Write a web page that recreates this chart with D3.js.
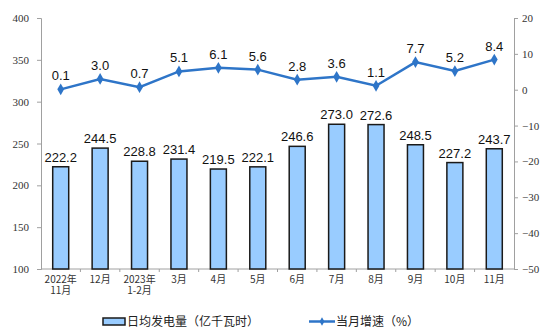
<!DOCTYPE html>
<html>
<head>
<meta charset="utf-8">
<script src="https://cdn.jsdelivr.net/npm/d3@7"></script>
<style>
body{margin:0;background:#fff;}
</style>
</head>
<body>
<div id="chart"></div>
<script>
var months = ['2022年\n11月','12月','2023年\n1-2月','3月','4月','5月','6月','7月','8月','9月','10月','11月'];
var daily = [222.2,244.5,228.8,231.4,219.5,222.1,246.6,273.0,272.6,248.5,227.2,243.7];
var growth = [0.1,3.0,0.7,5.1,6.1,5.6,2.8,3.6,1.1,7.7,5.2,8.4];
var leftTicks = [100,150,200,250,300,350,400];
var rightTicks = [-50,-40,-30,-20,-10,0,10,20];

var W=554,H=334;
var pLeft=41,pRight=514,pTop=18,pBottom=269;

var svg = d3.select('#chart').append('svg')
  .attr('width',W).attr('height',H);

var x = d3.scaleBand().domain(d3.range(months.length)).range([pLeft,pRight]);
var y = d3.scaleLinear().domain([100,400]).range([pBottom,pTop]);
var y2 = d3.scaleLinear().domain([-50,20]).range([pBottom,pTop]);

var serif = '"Liberation Serif","DejaVu Serif",serif';
var sans = '"Liberation Sans",Arial,sans-serif';
var cjk = '"Noto Sans CJK SC",sans-serif';

// left axis
var ax = svg.append('g').attr('transform','translate('+pLeft+',0)')
  .call(d3.axisLeft(y).tickValues(leftTicks).tickSize(4).tickPadding(8));
ax.select('.domain').attr('stroke','#a0a0a0');
ax.selectAll('line').attr('stroke','#a0a0a0');
ax.selectAll('text').attr('font-family',serif).attr('font-size',11).attr('fill','#333');

// right axis
var ax2 = svg.append('g').attr('transform','translate('+pRight+',0)')
  .call(d3.axisRight(y2).tickValues(rightTicks).tickSize(4).tickPadding(4));
ax2.select('.domain').attr('stroke','#a0a0a0');
ax2.selectAll('line').attr('stroke','#a0a0a0');
ax2.selectAll('text').attr('font-family',serif).attr('font-size',11).attr('fill','#333');

// bottom axis
svg.append('line').attr('x1',pLeft).attr('x2',pRight).attr('y1',pBottom).attr('y2',pBottom)
  .attr('stroke','#a0a0a0');
svg.selectAll('.xt').data(d3.range(1,months.length)).enter().append('line')
  .attr('x1',function(d){return x(d);}).attr('x2',function(d){return x(d);})
  .attr('y1',pBottom).attr('y2',pBottom+3).attr('stroke','#a0a0a0');

var xl = svg.selectAll('.xl').data(months).enter().append('text')
  .attr('x',function(d,i){return x(i)+x.bandwidth()/2;})
  .attr('y',pBottom+14)
  .attr('text-anchor','middle')
  .attr('font-family',cjk).attr('font-size',10).attr('fill','#333');
xl.each(function(d){
  var t=d3.select(this);
  d.split('\n').forEach(function(s,k){
    t.append('tspan').attr('x',t.attr('x')).attr('dy',k?11:0).text(s);
  });
});

// bars
var bw=16;
svg.selectAll('.bar').data(daily).enter().append('rect')
  .attr('x',function(d,i){return x(i)+x.bandwidth()/2-bw/2;})
  .attr('y',function(d){return y(d);})
  .attr('width',bw)
  .attr('height',function(d){return pBottom-y(d);})
  .attr('fill','#99ccff').attr('stroke','#1a1a1a').attr('stroke-width',1.5);

svg.selectAll('.bl').data(daily).enter().append('text')
  .attr('x',function(d,i){return x(i)+x.bandwidth()/2;})
  .attr('y',function(d){return y(d)-5;})
  .attr('text-anchor','middle')
  .attr('font-family',sans).attr('font-size',13).attr('fill','#111')
  .text(function(d){return d.toFixed(1);});

// line
var line = d3.line()
  .x(function(d,i){return x(i)+x.bandwidth()/2;})
  .y(function(d){return y2(d);});
svg.append('path').datum(growth).attr('d',line)
  .attr('fill','none').attr('stroke','#2e75c8').attr('stroke-width',2.5);

var diamond = d3.symbol().type(d3.symbolDiamond).size(40);
svg.selectAll('.pt').data(growth).enter().append('path')
  .attr('d',diamond)
  .attr('transform',function(d,i){return 'translate('+(x(i)+x.bandwidth()/2)+','+y2(d)+')';})
  .attr('fill','#2e75c8');

svg.selectAll('.ll').data(growth).enter().append('text')
  .attr('x',function(d,i){return x(i)+x.bandwidth()/2;})
  .attr('y',function(d){return y2(d)-9;})
  .attr('text-anchor','middle')
  .attr('font-family',sans).attr('font-size',13).attr('fill','#111')
  .text(function(d){return d.toFixed(1);});

// legend
var lg = svg.append('g');
lg.append('rect').attr('x',103).attr('y',318).attr('width',22).attr('height',7)
  .attr('fill','#99ccff').attr('stroke','#1a1a1a').attr('stroke-width',1.5);
lg.append('text').attr('x',127).attr('y',326).attr('font-family',cjk).attr('font-size',12)
  .attr('fill','#222').text('日均发电量（亿千瓦时）');
lg.append('line').attr('x1',309).attr('x2',335).attr('y1',321.5).attr('y2',321.5)
  .attr('stroke','#2e75c8').attr('stroke-width',2.5);
lg.append('path').attr('d',d3.symbol().type(d3.symbolDiamond).size(20))
  .attr('transform','translate(322,321.5)').attr('fill','#2e75c8');
lg.append('text').attr('x',336).attr('y',326).attr('font-family',cjk).attr('font-size',12)
  .attr('fill','#222').text('当月增速（%）');
</script>
</body>
</html>
